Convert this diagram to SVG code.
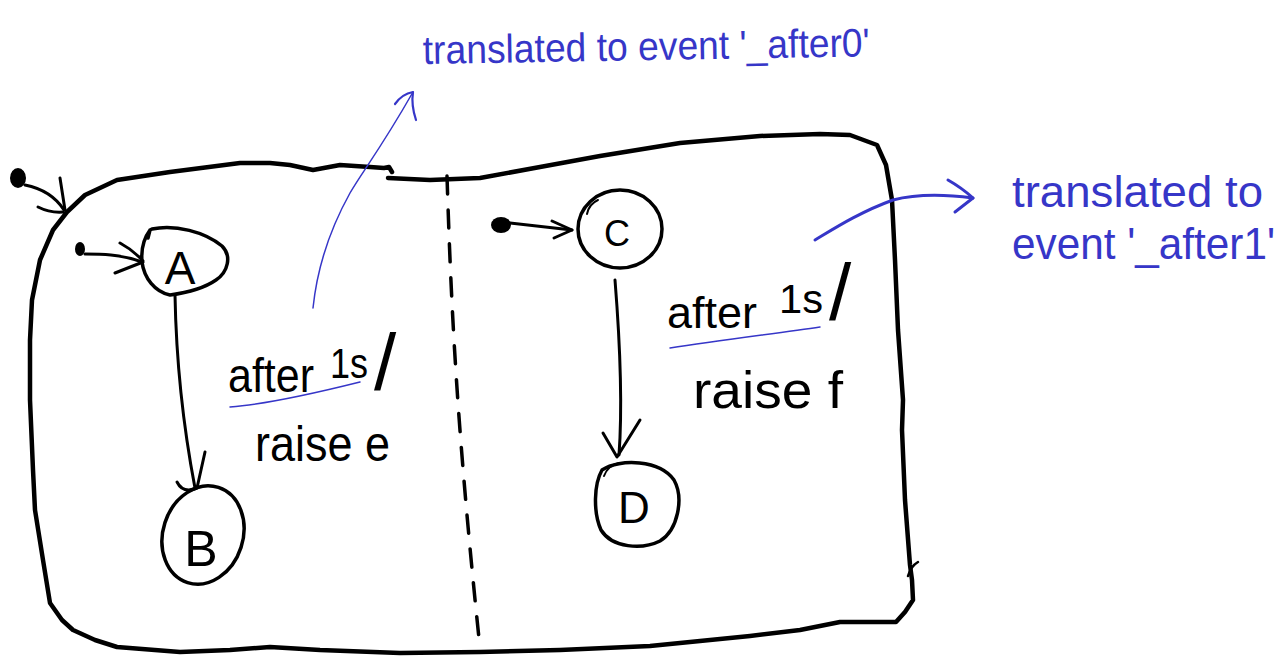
<svg xmlns="http://www.w3.org/2000/svg" width="1285" height="657" viewBox="0 0 1285 657">
  <style>
    .ink { fill: none; stroke: #000; stroke-linecap: round; stroke-linejoin: round; }
    .outline { stroke-width: 4.5; }
    .state { stroke-width: 3.5; }
    .edge { stroke-width: 3; }
    .blue { fill: none; stroke: #3636c8; stroke-linecap: round; stroke-linejoin: round; }
    .lbl { font-family: "Liberation Sans", "DejaVu Sans", sans-serif; fill: #000; }
    .note { font-family: "Liberation Sans", "DejaVu Sans", sans-serif; fill: #3636c8; }
  </style>

  <!-- composite state outline with its region divider -->
  <g id="composite">
    <path class="ink outline" d="M392,172 L389,167 L384,168 L370,167 L340,165 L313,170 L290,165 L270,163 L240,163 L170,172 L117,180 L85,195 L67,212 L53,230 L40,260 L32,300 L30,340 L30,400 L33,470 L35,510 L43,560 L50,603 L62,620 L73,630 L95,640 L117,647 L180,652 L230,650 L270,647 L320,650 L400,653 L480,652 L560,650 L650,646 L750,636 L800,630 L840,622 L880,622 L896,622 L905,612 L913,600 L912,580 L910,565 L905,500 L902,430 L903,400 L898,330 L895,260 L892,200 L886,165 L877,145 L850,135 L820,134 L760,136 L680,143 L600,156 L540,167 L480,178 L430,180 L388,178"/>
    <path class="ink" stroke-width="2.5" d="M908,576 Q911,566 918,562"/>
    <path class="ink" stroke-width="3.5" stroke-dasharray="18 16" d="M447,176 C451,300 456,420 480,648"/>
  </g>

  <!-- pseudo-states -->
  <g id="init-outer">
    <ellipse cx="18" cy="178" rx="8" ry="10" fill="#000"/>
  </g>
  <g id="init-left">
    <ellipse cx="80" cy="249" rx="5" ry="7" fill="#000"/>
  </g>
  <g id="init-right">
    <ellipse cx="501" cy="225" rx="10" ry="8" fill="#000"/>
  </g>

  <!-- states -->
  <g id="A">
    <path class="ink state" d="M150,230 L148,238 M152,229 C175,224 205,232 222,246 C232,256 228,272 216,280 C203,289 185,293 170,295 C155,292 144,278 142,262 C141,250 144,238 150,230 Z"/>
    <text class="lbl" x="180" y="284" font-size="46" text-anchor="middle">A</text>
  </g>
  <g id="B">
    <ellipse class="ink state" cx="203" cy="535" rx="40" ry="50" transform="rotate(18 203 535)"/>
    <text class="lbl" x="201" y="566" font-size="50" text-anchor="middle">B</text>
  </g>
  <g id="C">
    <ellipse class="ink state" cx="620" cy="229" rx="42" ry="39"/>
    <path class="ink" stroke-width="2" d="M587,214 Q589,204 598,200"/>
    <text class="lbl" x="617" y="246" font-size="36" text-anchor="middle">C</text>
  </g>
  <g id="D">
    <path class="ink state" d="M602,470 C620,458 660,460 674,480 C684,498 678,530 660,541 C642,550 612,548 601,530 C593,512 594,484 602,470 Z"/>
    <path class="ink" stroke-width="2" d="M604,476 Q608,465 619,463"/>
    <text class="lbl" x="634" y="523" font-size="44" text-anchor="middle">D</text>
  </g>

  <!-- transitions -->
  <g id="connectors">
    <path class="ink edge" d="M25,185 C40,188 55,196 64,210"/>
    <path class="ink edge" d="M60,178 L65,210 M38,207 Q50,213 63,212"/>

    <path class="ink edge" d="M85,254 C100,254 120,254 142,262"/>
    <path class="ink edge" d="M120,243 Q133,250 143,261 M115,273 L143,262"/>

    <path class="ink edge" d="M175,295 C176,350 182,420 195,488"/>
    <path class="ink edge" d="M205,452 L197,488 M177,482 Q183,494 197,488"/>

    <path class="ink edge" d="M510,223 L572,230"/>
    <path class="ink edge" d="M552,221 L572,230 L554,238"/>

    <path class="ink edge" d="M615,280 C619,330 623,400 619,455"/>
    <path class="ink edge" d="M603,433 L617,457 L640,420"/>
  </g>

  <!-- transition labels -->
  <g id="label-left">
    <text class="lbl" x="228" y="392" font-size="48"><tspan textLength="86" lengthAdjust="spacingAndGlyphs">after</tspan><tspan x="330" y="378" font-size="42" textLength="38" lengthAdjust="spacingAndGlyphs">1s</tspan><tspan x="374" y="390" font-size="80">/</tspan></text>
    <path class="blue" stroke-width="1.5" d="M230,407 C270,404 320,392 360,382"/>
    <text class="lbl" x="255" y="461" font-size="50" textLength="135" lengthAdjust="spacingAndGlyphs">raise e</text>
  </g>
  <g id="label-right">
    <text class="lbl" x="667" y="328" font-size="44"><tspan textLength="90" lengthAdjust="spacingAndGlyphs">after</tspan><tspan x="779" y="313" font-size="40" textLength="44" lengthAdjust="spacingAndGlyphs">1s</tspan><tspan x="829" y="320" font-size="80">/</tspan></text>
    <path class="blue" stroke-width="1.5" d="M670,348 C720,340 780,333 820,327"/>
    <text class="lbl" x="693" y="408" font-size="52" textLength="150" lengthAdjust="spacingAndGlyphs">raise f</text>
  </g>

  <!-- annotations -->
  <g id="note-after0">
    <path class="blue" stroke-width="1.5" d="M313,308 C318,260 335,220 350,193 C362,172 380,150 413,92"/>
    <path class="blue" stroke-width="2.2" d="M395,104 Q402,94 413,92 M416,120 Q411,105 413,92"/>
    <text class="note" x="423" y="64" font-size="40" textLength="447" lengthAdjust="spacingAndGlyphs" transform="rotate(-1 423 64)">translated to event '_after0'</text>
  </g>
  <g id="note-after1">
    <path class="blue" stroke-width="3" d="M815,240 C835,228 860,212 893,200 C920,193 950,195 973,198"/>
    <path class="blue" stroke-width="3" d="M948,180 Q962,188 973,198 L955,212"/>
    <text class="note" x="1012" y="207" font-size="44" textLength="251" lengthAdjust="spacingAndGlyphs">translated to</text>
    <text class="note" x="1012" y="259" font-size="44" textLength="263" lengthAdjust="spacingAndGlyphs">event '_after1'</text>
  </g>
</svg>
